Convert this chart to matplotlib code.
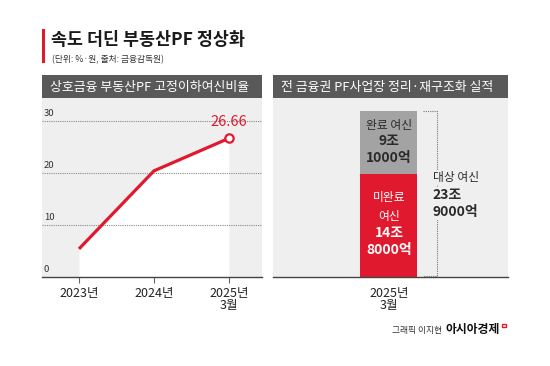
import matplotlib
matplotlib.use("Agg")
import matplotlib.pyplot as plt
from matplotlib.patches import Rectangle

plt.rcParams['font.family'] = ['Noto Sans CJK KR', 'DejaVu Sans']

# ---- data ----
periods = ['2023년', '2024년', '2025년\n3월']
ratio = [5.4, 20.4, 26.66]
yticks_left = [0, 10, 20, 30]

bar_period = ['2025년\n3월']
incomplete = [14.8]   # 미완료 여신 (조원)
completed = [9.1]     # 완료 여신 (조원)
total_label = ['대상 여신', '23조', '9000억']
completed_label = ['완료 여신', '9조', '1000억']
incomplete_label = ['미완료', '여신', '14조', '8000억']

title = '속도 더딘 부동산PF 정상화'
subtitle = '(단위: %·원, 출처: 금융감독원)'
head_left = '상호금융 부동산PF 고정이하여신비율'
head_right = '전 금융권 PF사업장 정리·재구조화 실적'

RED = '#e1192e'
BG = '#efefef'
HEAD = '#595959'
GRAYBAR = '#a3a3a3'

W, H = 550, 366
fig = plt.figure(figsize=(W / 100, H / 100), dpi=100)


def fx(x):
    return x / W


def fy(y):
    return 1 - y / H


def rect(x0, y0, x1, y1):
    return [fx(x0), fy(y1), (x1 - x0) / W, (y1 - y0) / H]


# title block
fig.patches.append(Rectangle((fx(42), fy(63)), 3 / W, 34 / H, transform=fig.transFigure,
                             facecolor=RED, edgecolor='none'))
fig.text(fx(51), fy(40), title, fontsize=12.5, fontweight='bold', color='#1a1a1a',
         ha='left', va='center')
fig.text(fx(52), fy(60), subtitle, fontsize=6.3, color='#333333', ha='left', va='center')

# headers
for x0, x1, txt in [(42, 262, head_left), (273, 508, head_right)]:
    fig.patches.append(Rectangle((fx(x0), fy(98)), (x1 - x0) / W, 23 / H,
                                 transform=fig.transFigure, facecolor=HEAD, edgecolor='none'))
    fig.text(fx(x0 + 8), fy(87), txt, fontsize=9.3, fontweight='medium', color='white',
             ha='left', va='center')

# ---- left line chart ----
ax = fig.add_axes(rect(42, 98, 262, 277))
ax.set_facecolor(BG)
xs = list(range(len(periods)))
ax.set_xlim(-0.493, 2.44)
ax.set_ylim(0, 34.4)
ax.fill_between(xs, ratio, 0, color='white', zorder=1, linewidth=0)
for v in yticks_left[1:]:
    ax.axhline(v, color='#8a8a8a', linestyle=(0, (1, 1)), linewidth=0.8, zorder=2)
for v in yticks_left:
    ax.text(-0.47, v + 0.6, str(v), fontsize=6.8, color='#333333', ha='left', va='bottom', zorder=3)
ax.plot(xs, ratio, color=RED, linewidth=2.3, zorder=4, solid_capstyle='butt')
ax.plot(xs[-1], ratio[-1], marker='o', markersize=6, markerfacecolor='white',
        markeredgecolor=RED, markeredgewidth=1.6, zorder=5)
ax.text(xs[-1], ratio[-1] + 1.8, f'{ratio[-1]:.2f}', color=RED, fontsize=10.5,
        ha='center', va='bottom', zorder=6)
for s in ['top', 'right', 'left']:
    ax.spines[s].set_visible(False)
ax.spines['bottom'].set_color('#444444')
ax.spines['bottom'].set_linewidth(1.0)
ax.set_yticks([])
ax.set_xticks(xs)
ax.set_xticklabels(periods, fontsize=9, color='#222222', linespacing=0.95)
ax.tick_params(axis='x', length=4, width=0.8, color='#666666', pad=3)

# ---- right stacked bar ----
ax2 = fig.add_axes(rect(273, 98, 508, 277))
ax2.set_facecolor(BG)
ax2.set_xlim(-1.221, 1.253)
ax2.set_ylim(0, 25.8)
bx = [0]
ax2.bar(bx, incomplete, width=0.6, color=RED, zorder=2)
ax2.bar(bx, completed, width=0.6, bottom=incomplete, color=GRAYBAR, zorder=2)
top = incomplete[0] + completed[0]

# labels in gray segment
gy = [top - 2.1, top - 4.3, top - 6.7]
for txt, y, fw, fs in zip(completed_label, gy, ['normal', 'bold', 'bold'], [8.5, 10, 10]):
    ax2.text(0, y, txt, ha='center', va='center', fontsize=fs, fontweight=fw, color='#2a2a2a', zorder=3)
# labels in red segment
ry = [11.5, 8.7, 6.4, 3.9]
for txt, y, fw, fs in zip(incomplete_label, ry, ['normal', 'normal', 'bold', 'bold'], [8.5, 8.5, 10, 10]):
    ax2.text(0, y, txt, ha='center', va='center', fontsize=fs, fontweight=fw, color='white', zorder=3)

# dotted bracket
bxl, bxr = 0.36, 0.505
ax2.plot([bxl, bxr, bxr, bxl], [top, top, 0.15, 0.15], color='#777777',
         linestyle=(0, (1, 1)), linewidth=0.8, zorder=2)
ty = [14.3, 11.8, 9.4]
for txt, y, fw, fs in zip(total_label, ty, ['normal', 'bold', 'bold'], [8.5, 10, 10]):
    ax2.text(0.46, y, txt, ha='left', va='center', fontsize=fs, fontweight=fw, color='#2a2a2a',
             zorder=3, bbox=dict(facecolor=BG, edgecolor='none', pad=0.6))

for s in ['top', 'right', 'left']:
    ax2.spines[s].set_visible(False)
ax2.spines['bottom'].set_color('#444444')
ax2.spines['bottom'].set_linewidth(1.0)
ax2.set_yticks([])
ax2.set_xticks(bx)
ax2.set_xticklabels(bar_period, fontsize=9, color='#222222', linespacing=0.95)
ax2.tick_params(axis='x', length=0, pad=7)

# credit
fig.text(fx(442), fy(330), '그래픽 이지현', fontsize=6.3, color='#333333', ha='right', va='center')
fig.text(fx(446), fy(330), '아시아경제', fontsize=8.5, fontweight='bold', color='#111111',
         ha='left', va='center')
fig.patches.append(Rectangle((fx(502), fy(327)), 3.5 / W, 3.5 / H, transform=fig.transFigure,
                             facecolor='white', edgecolor=RED, linewidth=1.0))

fig.savefig('out.png', dpi=100, facecolor='white')
